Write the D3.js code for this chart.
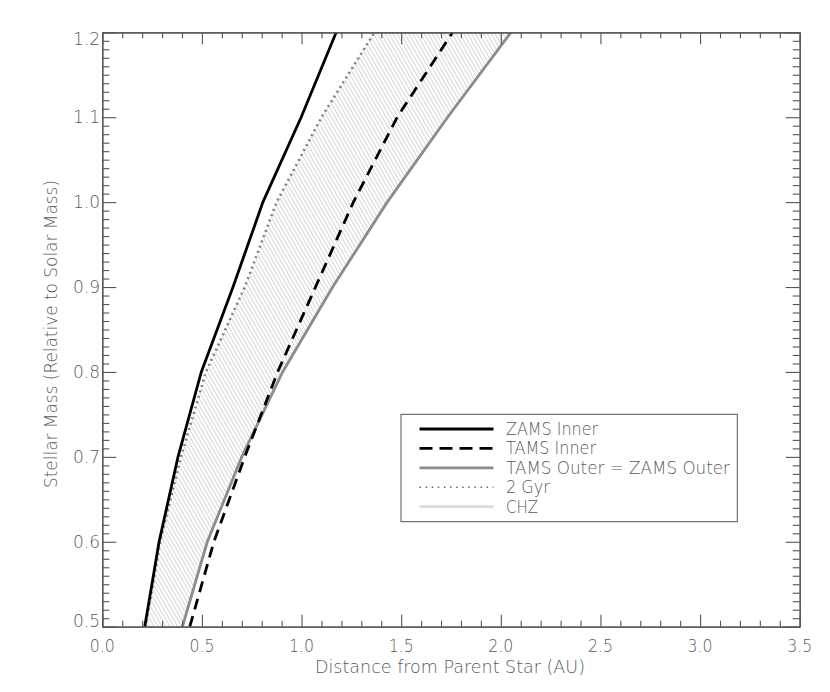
<!DOCTYPE html>
<html>
<head>
<meta charset="utf-8">
<script src="https://cdn.jsdelivr.net/npm/d3@7"></script>
<style>
  html, body { margin: 0; padding: 0; background: #fff; }
  svg { display: block; }
  text { font-family: "DejaVu Sans", sans-serif; font-weight: 200; fill: #5a5a5a; }
</style>
</head>
<body>
<svg id="chart" width="830" height="692"></svg>
<script>
// ---- data ----
const masses    = [0.5, 0.6, 0.7, 0.8, 0.9, 1.0, 1.1, 1.2];
const zamsInner = [0.213, 0.285, 0.380, 0.497, 0.656, 0.806, 0.998, 1.174];
const tamsInner = [0.439, 0.560, 0.715, 0.880, 1.070, 1.260, 1.480, 1.758];
const tamsOuter = [0.402, 0.527, 0.700, 0.905, 1.156, 1.430, 1.733, 2.051];
const gyr2      = [0.218, 0.290, 0.395, 0.520, 0.715, 0.875, 1.100, 1.366];
const xMajorTicks = [0.0, 0.5, 1.0, 1.5, 2.0, 2.5, 3.0, 3.5];
const yMajorTicks = [0.5, 0.6, 0.7, 0.8, 0.9, 1.0, 1.1, 1.2];
const legendLabels = ["ZAMS Inner", "TAMS Inner", "TAMS Outer = ZAMS Outer", "2 Gyr", "CHZ"];
const xTitle = "Distance from Parent Star (AU)";
const yTitle = "Stellar Mass (Relative to Solar Mass)";

// ---- layout ----
const L = 102.3, R = 799.7, T = 32.3, B = 626.7;
const svg = d3.select("#chart");
const x = d3.scaleLinear().domain([0, 3.5]).range([L, R]);
const y = d3.scaleLinear().domain([0.5, 1.2]).range([B, T]);

const xMinor = d3.range(0, 36).map(i => i / 10).filter(v => Math.round(v * 10) % 5 !== 0);
const yMinor = d3.range(50, 121).map(i => i / 100).filter(v => Math.round(v * 100) % 10 !== 0);

// defs: clip + hatch pattern
const defs = svg.append("defs");
defs.append("clipPath").attr("id", "plotclip")
  .append("rect").attr("x", L).attr("y", T).attr("width", R - L).attr("height", B - T);
const pat = defs.append("pattern").attr("id", "hatch")
  .attr("patternUnits", "userSpaceOnUse").attr("width", 3.4).attr("height", 10)
  .attr("patternTransform", "rotate(-30)");
pat.append("line").attr("x1", 0.5).attr("y1", 0).attr("x2", 0.5).attr("y2", 10)
  .attr("stroke", "#d2d2d2").attr("stroke-width", 0.9);

const plot = svg.append("g").attr("clip-path", "url(#plotclip)");

// CHZ hatched area between 2 Gyr and outer boundary
const chz = masses.map((m, i) => ({ m, a: gyr2[i], b: tamsOuter[i] }));
plot.append("path").datum(chz)
  .attr("d", d3.area().y(d => y(d.m)).x0(d => x(d.a)).x1(d => x(d.b)))
  .attr("fill", "url(#hatch)").attr("stroke", "none");

const line = d3.line().x(d => x(d[0])).y(d => y(d[1]));
function series(vals) { return masses.map((m, i) => [vals[i], m]); }

const styles = [
  { vals: zamsInner, stroke: "#000", width: 2.8, dash: null },
  { vals: tamsInner, stroke: "#000", width: 2.8, dash: "11,7" },
  { vals: tamsOuter, stroke: "#8c8c8c", width: 2.8, dash: null },
  { vals: gyr2, stroke: "#808080", width: 2.6, dash: "2,3.6" },
];
// draw order: outer, dotted, dashed, zams
[2, 3, 1, 0].forEach(k => {
  const s = styles[k];
  plot.append("path").datum(series(s.vals))
    .attr("d", line).attr("fill", "none")
    .attr("stroke", s.stroke).attr("stroke-width", s.width)
    .attr("stroke-dasharray", s.dash);
});

// ---- axes ----
const axisColor = "#555";
function styleAxis(g) {
  g.selectAll("path.domain").attr("stroke", axisColor).attr("stroke-width", 1.2);
  g.selectAll(".tick line").attr("stroke", axisColor).attr("stroke-width", 1.1);
  g.selectAll("text").remove();
}
// bottom
svg.append("g").attr("transform", `translate(0,${B})`)
  .call(d3.axisTop(x).tickValues(xMajorTicks).tickSize(12).tickSizeOuter(0).tickFormat("")).call(styleAxis);
svg.append("g").attr("transform", `translate(0,${B})`)
  .call(d3.axisTop(x).tickValues(xMinor).tickSize(6).tickSizeOuter(0).tickFormat("")).call(styleAxis);
// top
svg.append("g").attr("transform", `translate(0,${T})`)
  .call(d3.axisBottom(x).tickValues(xMajorTicks).tickSize(12).tickSizeOuter(0).tickFormat("")).call(styleAxis);
svg.append("g").attr("transform", `translate(0,${T})`)
  .call(d3.axisBottom(x).tickValues(xMinor).tickSize(6).tickSizeOuter(0).tickFormat("")).call(styleAxis);
// left
svg.append("g").attr("transform", `translate(${L},0)`)
  .call(d3.axisRight(y).tickValues(yMajorTicks).tickSize(14).tickSizeOuter(0).tickFormat("")).call(styleAxis);
svg.append("g").attr("transform", `translate(${L},0)`)
  .call(d3.axisRight(y).tickValues(yMinor).tickSize(7).tickSizeOuter(0).tickFormat("")).call(styleAxis);
// right
svg.append("g").attr("transform", `translate(${R},0)`)
  .call(d3.axisLeft(y).tickValues(yMajorTicks).tickSize(14).tickSizeOuter(0).tickFormat("")).call(styleAxis);
svg.append("g").attr("transform", `translate(${R},0)`)
  .call(d3.axisLeft(y).tickValues(yMinor).tickSize(7).tickSizeOuter(0).tickFormat("")).call(styleAxis);

// tick labels
const fmt = d3.format(".1f");
svg.append("g").selectAll("text").data(xMajorTicks).join("text")
  .attr("x", d => x(d)).attr("y", 652)
  .attr("text-anchor", "middle").attr("font-size", 17)
  .attr("textLength", 25).attr("lengthAdjust", "spacingAndGlyphs")
  .text(d => fmt(d));
svg.append("g").selectAll("text").data(yMajorTicks).join("text")
  .attr("x", 100).attr("y", d => {
    let c = y(d);
    if (d === 1.2) c += 6.4;
    if (d === 0.5) c -= 5.7;
    return c + 6;
  })
  .attr("text-anchor", "end").attr("font-size", 17)
  .text(d => fmt(d));

// axis titles
svg.append("text").attr("x", 315).attr("y", 673)
  .attr("font-size", 17).attr("textLength", 270).attr("lengthAdjust", "spacingAndGlyphs")
  .text(xTitle);
svg.append("text").attr("transform", "translate(57,488) rotate(-90)")
  .attr("x", 0).attr("y", 0)
  .attr("font-size", 17).attr("textLength", 308).attr("lengthAdjust", "spacingAndGlyphs")
  .text(yTitle);

// ---- legend ----
const lg = svg.append("g");
lg.append("rect").attr("x", 401).attr("y", 414.3).attr("width", 336.3).attr("height", 107.4)
  .attr("fill", "#fff").attr("stroke", "#555").attr("stroke-width", 1);
const legendStyles = [
  { stroke: "#000", width: 2.8, dash: null },
  { stroke: "#000", width: 2.8, dash: "13,7" },
  { stroke: "#8c8c8c", width: 2.8, dash: null },
  { stroke: "#666", width: 1.6, dash: "1.5,4.6" },
  { stroke: "#dcdcdc", width: 2.8, dash: null },
];
const rowY = d3.scaleLinear().domain([0, 4]).range([429, 506.7]);
const textLens = [92, 90, 224, 44, 32];
legendLabels.forEach((lab, i) => {
  const s = legendStyles[i];
  lg.append("line").attr("x1", 419.5).attr("x2", 493.5)
    .attr("y1", rowY(i)).attr("y2", rowY(i))
    .attr("stroke", s.stroke).attr("stroke-width", s.width)
    .attr("stroke-dasharray", s.dash);
  lg.append("text").attr("x", 506).attr("y", rowY(i) + 6)
    .attr("font-size", 17).attr("textLength", textLens[i]).attr("lengthAdjust", "spacingAndGlyphs")
    .text(lab);
});
</script>
</body>
</html>
